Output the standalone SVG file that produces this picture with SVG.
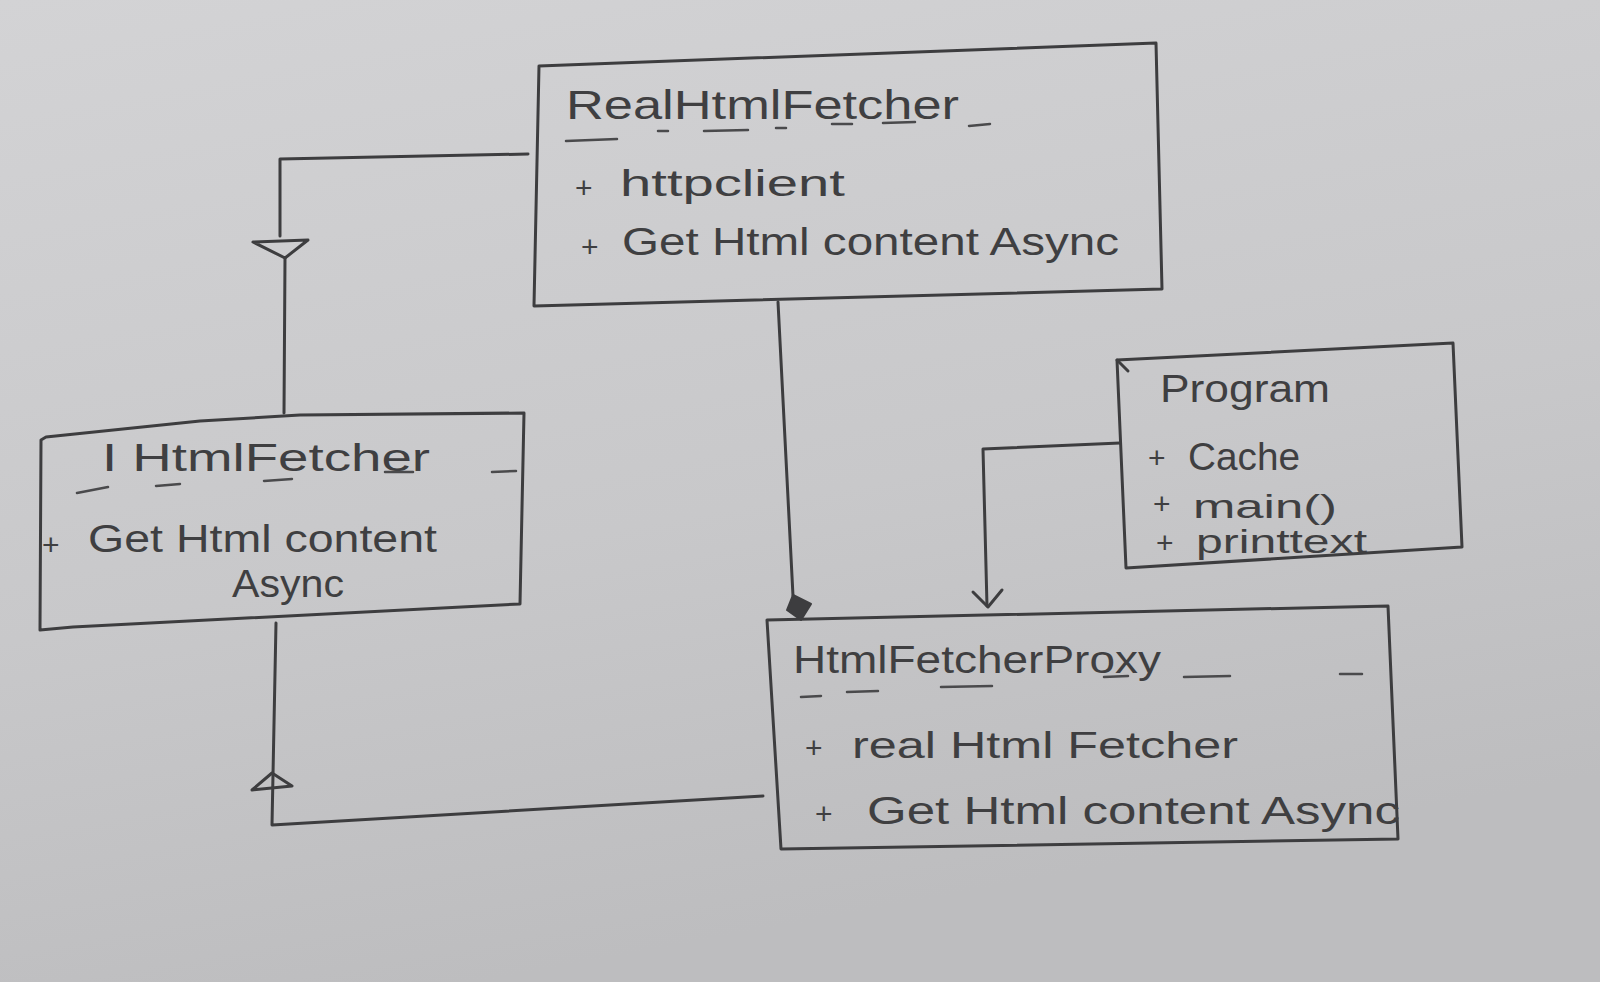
<svg xmlns="http://www.w3.org/2000/svg" width="1600" height="982" viewBox="0 0 1600 982">
<defs>
<linearGradient id="paper" x1="0" y1="0" x2="0.3" y2="1">
<stop offset="0" stop-color="#d3d3d5"/>
<stop offset="0.6" stop-color="#c8c8ca"/>
<stop offset="1" stop-color="#bdbdbf"/>
</linearGradient>
<style>
.ln{fill:none;stroke:#3d3d3f;stroke-width:3;stroke-linecap:round;stroke-linejoin:round}
.ds{fill:none;stroke:#4a4a4c;stroke-width:2.5;stroke-linecap:round}
.t{font-family:"Liberation Sans",Arial,sans-serif;fill:#3f3f41;}
.tt{font-size:38px}
.tm{font-size:36px}
.pl{font-size:30px}
</style>
</defs>
<rect width="1600" height="982" fill="url(#paper)"/>

<g id="connectors">
<!-- RealHtmlFetcher -> IHtmlFetcher (realization) -->
<polyline class="ln" points="528,154 280,159 280,236"/>
<polygon class="ln" points="253,242 308,240 285,258"/>
<polyline class="ln" points="285,258 284,413"/>
<!-- HtmlFetcherProxy -> IHtmlFetcher -->
<polyline class="ln" points="763,796 272,825 276,623"/>
<polygon class="ln" points="272,773 292,786 252,790"/>
<!-- RealHtmlFetcher -> HtmlFetcherProxy (composition) -->
<polyline class="ln" points="778,302 793,596"/>
<polygon points="793,595 811,604 801,620 787,610" fill="#3d3d3f" stroke="#3d3d3f" stroke-width="2" stroke-linejoin="round"/>
<!-- Program -> HtmlFetcherProxy -->
<polyline class="ln" points="1120,443 983,449 987,606"/>
<polyline class="ln" points="973,592 988,607 1002,590"/>
</g>

<g id="node-realhtmlfetcher">
<polyline class="ln" points="539,66 1156,43 1162,289 534,306 539,66"/>
<text class="t" x="566" y="119" font-size="40" textLength="393" lengthAdjust="spacingAndGlyphs">RealHtmlFetcher</text>
<path class="ds" d="M566,141 L617,139 M658,131 L668,131 M704,131 L748,130 M776,128 L786,128 M832,124 L852,124 M883,123 L915,122 M969,126 L990,124"/>
<text class="t pl" x="575" y="198">+</text>
<text class="t tm" x="620" y="196" textLength="225" lengthAdjust="spacingAndGlyphs">httpclient</text>
<text class="t pl" x="581" y="257">+</text>
<text class="t tt" x="622" y="255" textLength="497" lengthAdjust="spacingAndGlyphs">Get Html content Async</text>
</g>

<g id="node-ihtmlfetcher">
<polyline class="ln" points="46,437 200,421 300,415 524,413 520,604 73,627 40,630 41,440 46,437"/>
<text class="t tt" x="102" y="471" textLength="328" lengthAdjust="spacingAndGlyphs">I HtmlFetcher</text>
<path class="ds" d="M77,493 L108,487 M156,486 L180,484 M264,481 L292,479 M385,472 L413,472 M492,472 L516,471"/>
<text class="t pl" x="42" y="555">+</text>
<text class="t tt" x="88" y="552" textLength="349" lengthAdjust="spacingAndGlyphs">Get Html content</text>
<text class="t tt" x="232" y="597" textLength="112" lengthAdjust="spacingAndGlyphs">Async</text>
</g>

<g id="node-program">
<polyline class="ln" points="1117,360 1453,343 1462,547 1126,568 1117,360"/>
<polyline class="ln" points="1117,360 1128,371"/>
<text class="t tt" x="1160" y="402" textLength="170" lengthAdjust="spacingAndGlyphs">Program</text>
<text class="t pl" x="1148" y="468">+</text>
<text class="t" font-size="38" x="1188" y="470" textLength="112" lengthAdjust="spacingAndGlyphs">Cache</text>
<text class="t pl" x="1153" y="514">+</text>
<text class="t" font-size="34" x="1193" y="518" textLength="144" lengthAdjust="spacingAndGlyphs">main()</text>
<text class="t pl" x="1156" y="553">+</text>
<text class="t" font-size="33" x="1196" y="553" textLength="171" lengthAdjust="spacingAndGlyphs">printtext</text>
</g>

<g id="node-htmlfetcherproxy">
<polyline class="ln" points="767,620 1388,606 1398,839 781,849 767,620"/>
<text class="t tt" x="793" y="673" textLength="368" lengthAdjust="spacingAndGlyphs">HtmlFetcherProxy</text>
<path class="ds" d="M801,697 L821,696 M847,692 L878,691 M941,687 L992,686 M1104,677 L1128,676 M1184,677 L1230,676 M1340,674 L1362,674"/>
<text class="t pl" x="805" y="758">+</text>
<text class="t tm" x="852" y="758" textLength="386" lengthAdjust="spacingAndGlyphs">real Html Fetcher</text>
<text class="t pl" x="815" y="824">+</text>
<text class="t tt" x="867" y="824" textLength="533" lengthAdjust="spacingAndGlyphs">Get Html content Async</text>
</g>
</svg>
